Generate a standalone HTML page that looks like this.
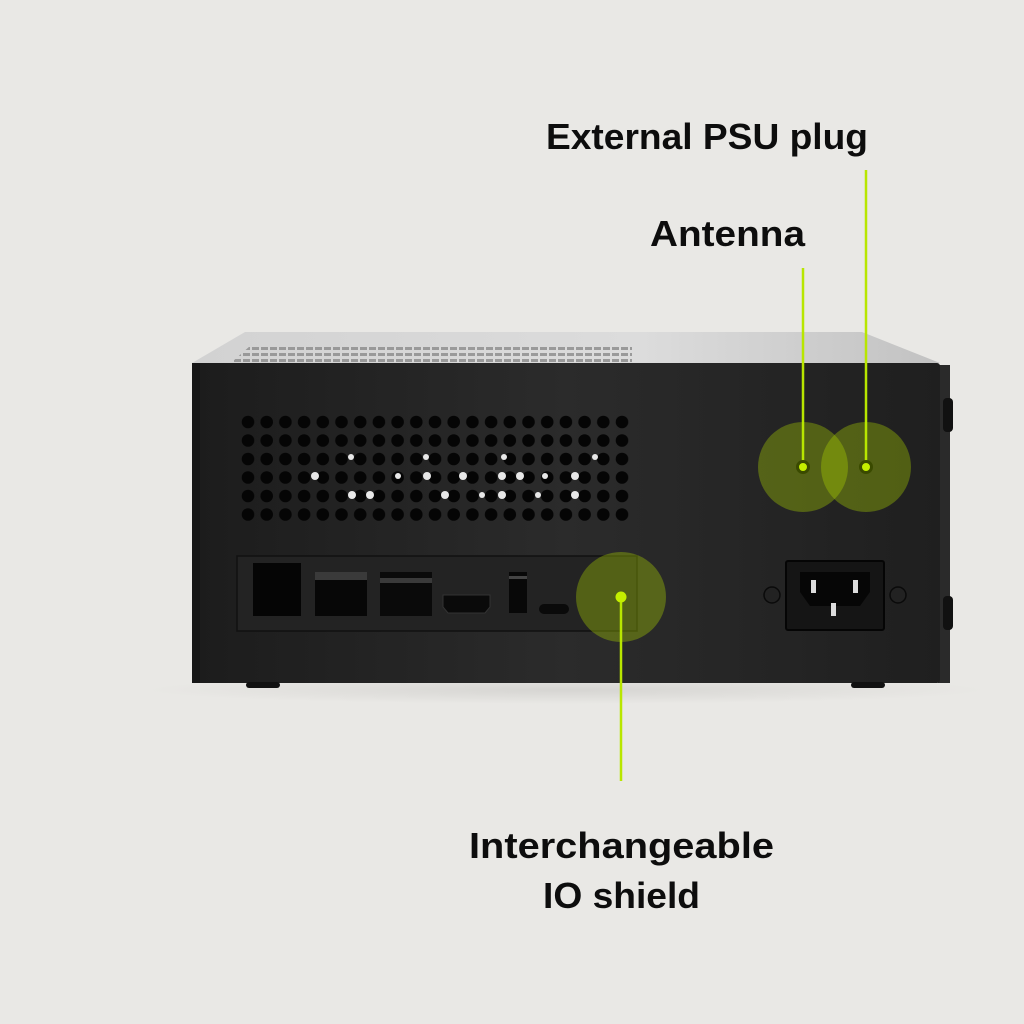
<!DOCTYPE html>
<html><head><meta charset="utf-8"><style>
html,body{margin:0;padding:0;background:#e9e8e5;}
svg{display:block}
text{font-family:"Liberation Sans",sans-serif;font-weight:bold;fill:#0d0d0d}
</style></head><body>
<svg width="1024" height="1024" viewBox="0 0 1024 1024" xmlns="http://www.w3.org/2000/svg">
<defs>
<linearGradient id="body" x1="0" y1="0" x2="1" y2="0">
<stop offset="0" stop-color="#1c1c1c"/><stop offset="0.5" stop-color="#2b2b2b"/><stop offset="1" stop-color="#1f1f1f"/>
</linearGradient>
<linearGradient id="top" x1="0" y1="0" x2="1" y2="0">
<stop offset="0" stop-color="#d2d2d2"/><stop offset="0.6" stop-color="#dcdcdc"/><stop offset="1" stop-color="#c2c2c2"/>
</linearGradient>
<pattern id="holes" x="239" y="413" width="18.7" height="18.5" patternUnits="userSpaceOnUse">
<circle cx="9" cy="9" r="6.3" fill="#050505"/>
</pattern>
<pattern id="slots" x="0" y="335" width="9" height="6" patternUnits="userSpaceOnUse">
<rect x="0" y="0" width="7" height="3" fill="#8a8a8a"/>
</pattern>
<radialGradient id="sh" cx="0.5" cy="0.5" r="0.5">
<stop offset="0" stop-color="#d6d5d2"/><stop offset="1" stop-color="#e9e8e5"/>
</radialGradient>
</defs>
<rect width="1024" height="1024" fill="#e9e8e5"/>
<ellipse cx="566" cy="690" rx="420" ry="14" fill="url(#sh)"/>
<polygon points="245,332 862,332 940,363 192,363" fill="url(#top)"/>
<polygon points="250,346 632,346 632,362 232,362" fill="url(#slots)" opacity="0.8"/>
<rect x="938" y="365" width="12" height="318" fill="#2a2a2a"/>
<rect x="943" y="398" width="10" height="34" rx="4" fill="#111"/>
<rect x="943" y="596" width="10" height="34" rx="4" fill="#111"/>
<rect x="192" y="363" width="748" height="320" rx="3" fill="url(#body)"/>
<rect x="192" y="363" width="8" height="320" fill="#161616"/>
<rect x="246" y="682" width="34" height="6" rx="3" fill="#111"/>
<rect x="851" y="682" width="34" height="6" rx="3" fill="#111"/>
<rect x="239" y="413" width="393" height="111" fill="url(#holes)"/>
<g fill="#e8e8e8">
<circle cx="315" cy="476" r="4"/><circle cx="352" cy="495" r="4"/><circle cx="370" cy="495" r="4"/><circle cx="427" cy="476" r="4"/><circle cx="463" cy="476" r="4"/><circle cx="445" cy="495" r="4"/><circle cx="502" cy="476" r="4"/><circle cx="520" cy="476" r="4"/><circle cx="502" cy="495" r="4"/><circle cx="575" cy="476" r="4"/><circle cx="575" cy="495" r="4"/><circle cx="351" cy="457" r="3"/><circle cx="426" cy="457" r="3"/><circle cx="504" cy="457" r="3"/><circle cx="545" cy="476" r="3"/><circle cx="595" cy="457" r="3"/><circle cx="398" cy="476" r="3"/><circle cx="482" cy="495" r="3"/><circle cx="538" cy="495" r="3"/>
</g>
<rect x="237" y="556" width="400" height="75" fill="#232323" stroke="#111" stroke-width="1.5"/>
<rect x="253" y="563" width="48" height="53" fill="#050505"/>
<rect x="315" y="572" width="52" height="44" fill="#070707"/>
<rect x="315" y="572" width="52" height="8" fill="#3a3a3a"/>
<rect x="380" y="572" width="52" height="44" fill="#0a0a0a"/>
<rect x="380" y="578" width="52" height="5" fill="#3a3a3a"/>
<path d="M443,595 h47 v12 l-5,6 h-37 l-5,-6z" fill="#0a0a0a" stroke="#333"/>
<rect x="509" y="572" width="18" height="41" fill="#080808"/>
<rect x="509" y="576" width="18" height="3" fill="#444"/>
<rect x="539" y="604" width="30" height="10" rx="5" fill="#0a0a0a"/>
<rect x="786" y="561" width="98" height="69" rx="2" fill="#151515" stroke="#050505" stroke-width="2"/>
<path d="M800,572 h70 v20 l-10,14 h-50 l-10,-14z" fill="#060606"/>
<rect x="811" y="580" width="5" height="13" fill="#ddd"/><rect x="853" y="580" width="5" height="13" fill="#ddd"/><rect x="831" y="603" width="5" height="13" fill="#ddd"/>
<circle cx="772" cy="595" r="8" fill="#222" stroke="#0a0a0a" stroke-width="1.5"/>
<circle cx="898" cy="595" r="8" fill="#222" stroke="#0a0a0a" stroke-width="1.5"/>
<g fill="rgba(175,215,0,0.35)">
<circle cx="803" cy="467" r="45"/><circle cx="866" cy="467" r="45"/><circle cx="621" cy="597" r="45"/>
</g>
<g stroke="#b8e600" stroke-width="2.5">
<line x1="803" y1="268" x2="803" y2="467"/><line x1="866" y1="170" x2="866" y2="467"/><line x1="621" y1="597" x2="621" y2="781"/>
</g>
<g fill="#c4ee00">
<circle cx="803" cy="467" r="5.5" stroke="#3a4a00" stroke-width="3"/><circle cx="866" cy="467" r="5.5" stroke="#3a4a00" stroke-width="3"/><circle cx="621" cy="597" r="5.5"/>
</g>
<text x="546" y="149" font-size="36" textLength="322" lengthAdjust="spacingAndGlyphs">External PSU plug</text>
<text x="650" y="246" font-size="36" textLength="155" lengthAdjust="spacingAndGlyphs">Antenna</text>
<text x="469" y="858" font-size="36" textLength="305" lengthAdjust="spacingAndGlyphs">Interchangeable</text>
<text x="543" y="908" font-size="36" textLength="157" lengthAdjust="spacingAndGlyphs">IO shield</text>
</svg>
</body></html>
